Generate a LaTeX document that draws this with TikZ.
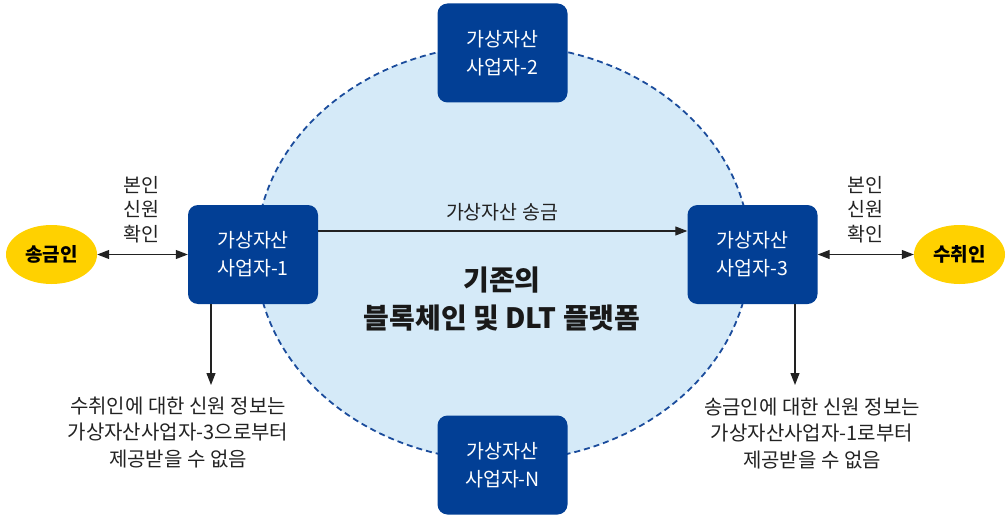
\documentclass[tikz,border=0pt]{standalone}
\usepackage{fontspec}
\setmainfont{Noto Sans CJK KR}
\usetikzlibrary{arrows.meta,shapes.geometric}
\definecolor{boxblue}{HTML}{023F95}
\definecolor{platfill}{HTML}{D5EAF8}
\definecolor{platline}{HTML}{1B4C9C}
\definecolor{persony}{HTML}{FFD100}
\definecolor{txt}{HTML}{222222}
\tikzset{
  vasp/.style={fill=boxblue, rounded corners=10pt, minimum width=130pt, minimum height=99pt,
    text=white, align=center, inner sep=0pt, font=\fontsize{19.5}{28}\selectfont},
  person/.style={ellipse, fill=persony, minimum width=91pt, minimum height=59pt, inner sep=0pt,
    text=black, font=\bfseries\fontsize{19}{20}\selectfont},
  lbl/.style={text=txt, align=center, inner sep=0pt, font=\fontsize{19.5}{24.5}\selectfont},
  note/.style={text=txt, align=center, inner sep=0pt, font=\fontsize{20}{26.5}\selectfont},
  ttl/.style={text=black!90, align=center, inner sep=0pt, font=\bfseries\fontsize{28}{38}\selectfont},
  arr/.style={draw=txt, line width=1.1pt, -{Triangle[length=12pt,width=9pt]}},
  dbl/.style={draw=txt, line width=1.1pt, {Triangle[length=12pt,width=9pt]}-{Triangle[length=12pt,width=9pt]}},
  platform/.style={fill=platfill, draw=platline, line width=1.8pt, dash pattern=on 6pt off 4pt}
}
\begin{document}
\begin{tikzpicture}[x=1pt,y=-1pt]
\useasboundingbox (0,0) rectangle (1006,516);
\draw[platform] (503,253) ellipse [x radius=247, y radius=208];

\node[vasp] (b1) at (253,254.5) {가상자산\\사업자-1};
\node[vasp] (b2) at (502.5,53) {가상자산\\사업자-2};
\node[vasp] (b3) at (752.5,254.5) {가상자산\\사업자-3};
\node[vasp] (bn) at (502.5,465) {가상자산\\사업자-N};

\node[person] (s) at (51.5,254.5) {송금인};
\node[person] (r) at (959.5,254.5) {수취인};

\draw[dbl] (s.east) -- (b1.west);
\draw[dbl] (b3.east) -- (r.west);
\node[lbl] (l1) at (141.5,209.5) {본인\\신원\\확인};
\node[lbl] (l3) at (865,209.5) {본인\\신원\\확인};

\coordinate (m) at (503,231);
\draw[arr] (b1.east |- m) -- (b3.west |- m);
\node[lbl] (ml) at (502,212) {가상자산 송금};

\node[ttl] (t) at (502,299) {기존의\\블록체인 및 DLT 플랫폼};

\coordinate (d1) at (211,385);
\coordinate (d3) at (795,385);
\draw[arr] (b1.south -| d1) -- (d1);
\draw[arr] (b3.south -| d3) -- (d3);
\node[note] (n1) at (178,432.5) {수취인에 대한 신원 정보는\\가상자산사업자-3으로부터\\제공받을 수 없음};
\node[note] (n3) at (812,433.5) {송금인에 대한 신원 정보는\\가상자산사업자-1로부터\\제공받을 수 없음};
\end{tikzpicture}
\end{document}
